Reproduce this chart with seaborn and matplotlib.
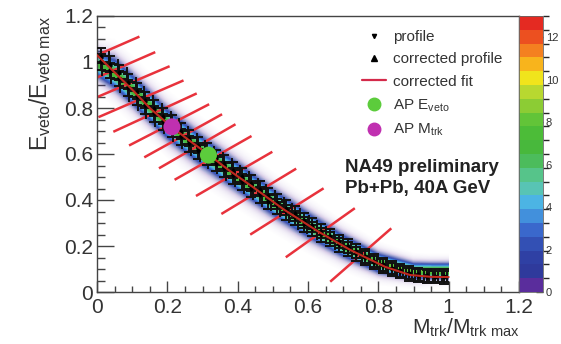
import numpy as np
import pandas as pd
import matplotlib
matplotlib.use("Agg")
import matplotlib.pyplot as plt
import seaborn as sns
from matplotlib.colors import ListedColormap, BoundaryNorm
from matplotlib.lines import Line2D
from matplotlib.ticker import MultipleLocator, FuncFormatter
import matplotlib.cm as cm

# ---------------- data ----------------
# corrected fit E_veto/E_veto,max versus M_trk/M_trk,max
fit_x = [0.0, 0.05, 0.10, 0.15, 0.21, 0.27, 0.32, 0.37, 0.44, 0.53, 0.63, 0.72, 0.82, 0.89, 0.95, 1.0]
fit_y = [1.03, 0.955, 0.88, 0.80, 0.72, 0.65, 0.595, 0.535, 0.46, 0.36, 0.262, 0.183, 0.109, 0.074, 0.066, 0.065]

# profile bin centres (40 bins of width 0.025), means and spreads
prof_x = np.arange(0.0125, 1.0, 0.025)
prof_y = [1.0, 0.963, 0.928, 0.888, 0.848, 0.808, 0.773, 0.738, 0.708, 0.673,
          0.643, 0.613, 0.588, 0.558, 0.533, 0.503, 0.478, 0.448, 0.423, 0.393,
          0.372, 0.347, 0.322, 0.293, 0.273, 0.249, 0.229, 0.205, 0.186, 0.166,
          0.148, 0.128, 0.113, 0.099, 0.087, 0.077, 0.071, 0.067, 0.065, 0.064]
corr_y = [1.028, 0.99, 0.955, 0.915, 0.875, 0.835, 0.80, 0.765, 0.735, 0.70,
          0.67, 0.64, 0.615, 0.585, 0.56, 0.53, 0.505, 0.475, 0.45, 0.42,
          0.392, 0.367, 0.342, 0.312, 0.291, 0.266, 0.245, 0.22, 0.199, 0.179,
          0.156, 0.136, 0.121, 0.106, 0.094, 0.084, 0.077, 0.073, 0.071, 0.07]
prof_xerr = [0.022, 0.022, 0.022, 0.022, 0.022, 0.022, 0.022, 0.022, 0.022, 0.022,
             0.022, 0.021, 0.021, 0.021, 0.020, 0.020, 0.020, 0.019, 0.019, 0.018,
             0.018, 0.017, 0.016, 0.015, 0.014, 0.013, 0.012, 0.012, 0.011, 0.011,
             0.010, 0.010, 0.009, 0.009, 0.008, 0.008, 0.007, 0.007, 0.007, 0.007]
prof_yerr = [0.034, 0.034, 0.034, 0.034, 0.034, 0.034, 0.034, 0.034, 0.034, 0.034,
             0.034, 0.034, 0.034, 0.034, 0.034, 0.034, 0.034, 0.034, 0.034, 0.034,
             0.033, 0.033, 0.032, 0.032, 0.031, 0.031, 0.030, 0.030, 0.030, 0.030,
             0.029, 0.029, 0.029, 0.028, 0.028, 0.028, 0.028, 0.028, 0.028, 0.028]

# 2D event density: ridge position, vertical spread and peak counts
hist_x = [0.0, 0.05, 0.10, 0.20, 0.30, 0.40, 0.50, 0.60, 0.70, 0.80, 0.90, 0.95, 1.0]
hist_ridge = [0.99, 0.95, 0.88, 0.73, 0.61, 0.50, 0.39, 0.29, 0.20, 0.125, 0.09, 0.09, 0.09]
hist_sigma = [0.03, 0.036, 0.036, 0.036, 0.036, 0.034, 0.032, 0.03, 0.027, 0.023, 0.019, 0.018, 0.018]
hist_peak = [6.5, 7.0, 7.0, 7.0, 7.0, 7.0, 7.0, 7.0, 7.0, 7.5, 8.0, 8.0, 8.0]

# positions along the fit where the iso-centrality lines cross it
line_x = [0.0, 0.045, 0.085, 0.125, 0.165, 0.205, 0.245, 0.285, 0.33, 0.39, 0.46, 0.54, 0.635, 0.75]
line_half = 0.145

# anchor points
ap_e = {"x": [0.317], "y": [0.595]}
ap_m = {"x": [0.213], "y": [0.718]}

# ---------------- style ----------------
sns.set_theme(style="ticks")
plt.rcParams["font.family"] = ["Liberation Sans", "DejaVu Sans"]
plt.rcParams["mathtext.fontset"] = "custom"
plt.rcParams["mathtext.rm"] = "Liberation Sans"
plt.rcParams["mathtext.it"] = "Liberation Sans:italic"
plt.rcParams["mathtext.bf"] = "Liberation Sans:bold"

W, H = 561, 344
fig = plt.figure(figsize=(W / 100, H / 100), dpi=100)
ax = fig.add_axes([97 / W, 1 - 292 / H, (519 - 97) / W, (292 - 16) / H])
cax = fig.add_axes([519 / W, 1 - 292 / H, 24 / W, (292 - 16) / H])

# palette with 20 contour levels, 0..13
pal = ["#5a2d9c", "#2f3a9c", "#2f40a4", "#3350b4", "#3a68cc", "#4290dc", "#4cb4e4",
       "#58c4b4", "#56c48a", "#4cbc5c", "#48b83c", "#4cbc38", "#62c438", "#8ccc34",
       "#b8d830", "#f0e41c", "#f8b41c", "#f48020", "#ec5020", "#e42a22"]
cmap = ListedColormap(pal)
levels = np.linspace(0, 13, 21)
norm = BoundaryNorm(levels, cmap.N)

# density image
gx = np.linspace(0, 1.0, 400)
gy = np.linspace(0, 1.2, 480)
XX, YY = np.meshgrid(gx, gy)
r = np.interp(gx, hist_x, hist_ridge)
s = np.interp(gx, hist_x, hist_sigma)
p = np.interp(gx, hist_x, hist_peak)
z = (YY - r[None, :]) / s[None, :]
dens = p[None, :] * np.exp(-0.5 * z ** 2) + 0.35 * np.exp(-0.5 * (z / 2.2) ** 2)
rgba = cmap(norm(dens))
rgba[..., 3] = np.clip((dens - 0.05) / 2.2, 0, 1) ** 0.9
ax.imshow(rgba, extent=[0, 1.0, 0, 1.2], origin="lower", aspect="auto",
          interpolation="bilinear", zorder=1)

# iso-centrality lines, perpendicular to the fit
fx = np.array(fit_x)
fy = np.array(fit_y)
slope = np.gradient(fy, fx)
lx = np.array(line_x)
ly = np.interp(lx, fx, fy)
lm = np.interp(lx, fx, slope)
dx = -lm / np.sqrt(1 + lm ** 2)
dy = 1 / np.sqrt(1 + lm ** 2)
for x0, y0, ux, uy in zip(lx, ly, dx, dy):
    ax.plot([x0 - line_half * ux, x0 + line_half * ux],
            [y0 - line_half * uy, y0 + line_half * uy],
            color="#e8323c", lw=1.8, zorder=2, solid_capstyle="butt")

# profiles
for yy, mk in ((prof_y, "v"), (corr_y, "^")):
    ax.errorbar(prof_x, yy, xerr=prof_xerr, yerr=prof_yerr, fmt=mk, ms=2.5,
                color="black", ecolor="#111111", elinewidth=1.4, capsize=3.5,
                capthick=1.4, zorder=3)

# corrected fit
fit_df = pd.DataFrame({"x": fit_x, "y": fit_y})
sns.lineplot(data=fit_df, x="x", y="y", ax=ax, color="#c0281e", lw=1.5, zorder=4,
             legend=False, sort=False)

# anchor points
sns.scatterplot(x=ap_e["x"], y=ap_e["y"], ax=ax, s=150, color="#5ccc3c", edgecolor="none", zorder=5)
sns.scatterplot(x=ap_m["x"], y=ap_m["y"], ax=ax, s=150, color="#c030b0", edgecolor="none", zorder=5)

# axes
ax.set_xlim(0, 1.2)
ax.set_ylim(0, 1.2)
fmt = FuncFormatter(lambda v, _: f"{v:g}")
ax.xaxis.set_major_locator(MultipleLocator(0.2))
ax.xaxis.set_minor_locator(MultipleLocator(0.05))
ax.yaxis.set_major_locator(MultipleLocator(0.2))
ax.yaxis.set_minor_locator(MultipleLocator(0.05))
ax.xaxis.set_major_formatter(fmt)
ax.yaxis.set_major_formatter(fmt)
ax.tick_params(axis="both", which="both", direction="in", colors="#444444",
               labelcolor="#333333", labelsize=15, width=1)
ax.tick_params(axis="x", which="major", length=8, pad=4)
ax.tick_params(axis="x", which="minor", length=4)
ax.tick_params(axis="y", which="major", length=12, pad=3)
ax.tick_params(axis="y", which="minor", length=6)
ax.tick_params(top=False, right=False, which="both")
for sp in ax.spines.values():
    sp.set_color("#444444")
    sp.set_linewidth(1.0)

ax.set_xlabel(r"$\mathrm{M_{trk}/M_{trk\ max}}$", fontsize=15, loc="right",
              color="#333333", labelpad=0)
ax.set_ylabel(r"$\mathrm{E_{veto}/E_{veto\ max}}$", fontsize=16.5, loc="top",
              color="#333333", labelpad=8)

# colour scale
cb = fig.colorbar(cm.ScalarMappable(norm=norm, cmap=cmap), cax=cax, ticks=[0, 2, 4, 6, 8, 10, 12])
cb.outline.set_edgecolor("#666666")
cb.outline.set_linewidth(0.6)
cax.tick_params(direction="in", length=5, width=1, colors="#333333", labelsize=8, pad=2)
cax.yaxis.set_major_formatter(fmt)

# legend
handles = [
    Line2D([], [], ls="none", marker="v", ms=3, color="black"),
    Line2D([], [], ls="none", marker="^", ms=5, color="black"),
    Line2D([], [], color="#d42a4a", lw=1.6),
    Line2D([], [], ls="none", marker="o", ms=9, color="#5ccc3c"),
    Line2D([], [], ls="none", marker="o", ms=9, color="#c030b0"),
]
labels = ["profile", "corrected profile", "corrected fit",
          r"AP E$_{\mathrm{veto}}$", r"AP M$_{\mathrm{trk}}$"]
leg = ax.legend(handles, labels, loc="upper left", bbox_to_anchor=(362 / W, 1 - 30 / H),
                bbox_transform=fig.transFigure, frameon=False, fontsize=11,
                handlelength=1.6, handletextpad=0.4, labelspacing=0.55,
                borderpad=0, borderaxespad=0)
for t in leg.get_texts():
    t.set_color("#333333")

fig.text(345 / W, 1 - 167 / H, "NA49 preliminary", fontsize=13.5, fontweight="bold",
         va="center", ha="left", color="#222222")
fig.text(345 / W, 1 - 188 / H, "Pb+Pb, 40A GeV", fontsize=13.5, fontweight="bold",
         va="center", ha="left", color="#222222")

fig.savefig("out.png", dpi=100)
